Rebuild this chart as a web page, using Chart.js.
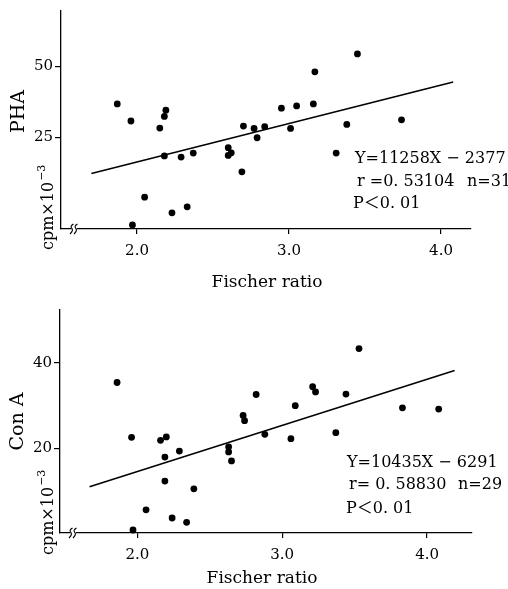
<!DOCTYPE html>
<html>
<head>
<meta charset="utf-8">
<script src="https://cdn.jsdelivr.net/npm/chart.js@4"></script>
<style>
  html, body { margin: 0; padding: 0; background: #fff; }
  body { width: 508px; height: 589px; position: relative; overflow: hidden; }
  canvas { position: absolute; left: 0; }
  #phaChart  { top: 0; }
  #conaChart { top: 295px; }
</style>
</head>
<body>
<canvas id="phaChart" width="508" height="295"></canvas>
<canvas id="conaChart" width="508" height="294"></canvas>
<script>
"use strict";

// ── Data (cpm × 10^-3 vs Fischer ratio) ──────────────────────────────────
const phaX = [1.87, 1.96, 2.19, 2.18, 2.15, 2.18, 2.29, 2.37, 2.60, 2.60, 2.62,
              2.70, 2.69, 2.05, 2.23, 2.33, 1.97, 2.77, 2.79, 2.84, 2.95, 3.05,
              3.01, 3.16, 3.17, 3.45, 3.38, 3.31, 3.74];
const phaY = [36.7, 30.7, 34.5, 32.3, 28.2, 18.4, 18.0, 19.4, 21.3, 18.6, 19.5,
              28.9, 12.8, 3.9, -1.6, 0.5, -5.9, 28.1, 24.8, 28.7, 35.2, 36.0,
              28.1, 36.7, 48.0, 54.3, 29.5, 19.4, 31.1];
const phaFitX = [1.70, 4.08];
const phaFitY = [12.2, 44.4];

const conaX = [1.86, 1.96, 2.16, 2.20, 2.19, 2.29, 2.19, 2.39, 2.06, 2.24, 2.34,
               1.97, 2.63, 2.63, 2.65, 2.73, 2.74, 2.82, 2.88, 3.09, 3.06, 3.21,
               3.23, 3.44, 3.53, 3.37, 3.83, 4.08];
const conaY = [35.4, 22.6, 21.9, 22.7, 18.0, 19.4, 12.4, 10.6, 5.7, 3.8, 2.8,
               1.0, 20.4, 19.2, 17.1, 27.7, 26.5, 32.6, 23.3, 30.0, 22.3, 34.4,
               33.2, 32.7, 43.3, 23.7, 29.5, 29.2];
const conaFitX = [1.67, 4.19];
const conaFitY = [11.1, 38.2];

const xTicks    = [2, 3, 4];
const phaTicks  = [25, 50];
const conaTicks = [20, 40];

const SERIF = '"DejaVu Serif", "Noto Sans CJK JP", serif';

// ── Helpers ───────────────────────────────────────────────────────────────
function toPoints(xs, ys) {
  return xs.map((x, i) => ({ x: x, y: ys[i] }));
}

// titles, stats text and the axis-break mark
const figureText = {
  id: "figureText",
  afterDraw(chart, args, o) {
    const ctx = chart.ctx;
    const area = chart.chartArea;
    ctx.save();
    ctx.fillStyle = "#000";
    ctx.strokeStyle = "#000";

    // axis break on the x axis
    const bx = area.left + 13, by = area.bottom;
    ctx.fillStyle = "#fff";
    ctx.fillRect(bx - 3, by - 2, 6, 4);
    ctx.fillStyle = "#000";
    ctx.lineWidth = 1.1;
    [-2, 2].forEach(d => {
      ctx.beginPath();
      ctx.moveTo(bx + d - 2, by + 5);
      ctx.quadraticCurveTo(bx + d + 2, by + 1, bx + d - 0.5, by - 1);
      ctx.quadraticCurveTo(bx + d - 2, by - 3, bx + d + 1.5, by - 5);
      ctx.stroke();
    });

    // x title
    ctx.font = "17px " + SERIF;
    ctx.textAlign = "center";
    ctx.textBaseline = "alphabetic";
    ctx.fillText("Fischer ratio", o.xTitle[0], o.xTitle[1]);

    // y name
    ctx.save();
    ctx.translate(o.name[1], o.name[2]);
    ctx.rotate(-Math.PI / 2);
    ctx.font = "19px " + SERIF;
    ctx.fillText(o.name[0], 0, 0);
    ctx.restore();

    // y unit  cpm×10^-3
    ctx.save();
    ctx.translate(o.unit[0], o.unit[1]);
    ctx.rotate(-Math.PI / 2);
    ctx.textAlign = "left";
    ctx.font = "16px " + SERIF;
    ctx.fillText("cpm×10", 0, 0);
    const w = ctx.measureText("cpm×10").width;
    ctx.font = "11px " + SERIF;
    ctx.fillText("−3", w + 1, -8);
    ctx.restore();

    // regression stats
    ctx.textAlign = "left";
    ctx.font = "16px " + SERIF;
    o.stats.forEach(s => ctx.fillText(s[0], s[1], s[2]));

    ctx.restore();
  }
};

function makeChart(id, cfg) {
  return new Chart(document.getElementById(id), {
    type: "scatter",
    data: {
      datasets: [
        {
          data: toPoints(cfg.x, cfg.y),
          backgroundColor: "#000",
          borderWidth: 0,
          pointRadius: 3.4,
          clip: false,
        },
        {
          data: toPoints(cfg.fitX, cfg.fitY),
          showLine: true,
          borderColor: "#000",
          borderWidth: 1.5,
          pointRadius: 0,
          clip: false,
        },
      ],
    },
    options: {
      responsive: false,
      animation: false,
      devicePixelRatio: 1,
      layout: { padding: cfg.padding },
      plugins: {
        legend: { display: false },
        tooltip: { enabled: false },
        figureText: cfg.text,
      },
      scales: {
        x: {
          type: "linear",
          min: cfg.xMin,
          max: cfg.xMax,
          afterBuildTicks: s => { s.ticks = xTicks.map(v => ({ value: v })); },
          afterFit: s => { s.height = cfg.xHeight; },
          border: { display: true, color: "#000", width: 1.3 },
          grid: { drawOnChartArea: false, drawTicks: true, tickLength: 5, color: "#000", lineWidth: 1.2 },
          ticks: {
            padding: 8,
            color: "#000",
            font: { family: SERIF, size: 15 },
            callback: v => v.toFixed(1),
          },
        },
        y: {
          type: "linear",
          min: cfg.yMin,
          max: cfg.yMax,
          afterBuildTicks: s => { s.ticks = cfg.yTicks.map(v => ({ value: v })); },
          afterFit: s => { s.width = cfg.yWidth; },
          border: { display: true, color: "#000", width: 1.3 },
          grid: { drawOnChartArea: false, drawTicks: true, tickLength: 6, color: "#000", lineWidth: 1.2 },
          ticks: {
            padding: 2,
            color: "#000",
            font: { family: SERIF, size: 15 },
          },
        },
      },
    },
    plugins: [figureText],
  });
}

// ── Upper panel: PHA ─────────────────────────────────────────────────────
makeChart("phaChart", {
  x: phaX, y: phaY, fitX: phaFitX, fitY: phaFitY,
  xMin: 1.5, xMax: 4.197, yMin: -7.3, yMax: 69.4, yTicks: phaTicks,
  padding: { left: 0, top: 8, right: 37, bottom: 0 },
  yWidth: 61, xHeight: 66,
  text: {
    xTitle: [267, 287],
    name: ["PHA", 24, 111.5],
    unit: [53, 250],
    stats: [
      ["Y=11258X − 2377", 355, 163],
      ["r =0. 53104", 357, 186],
      ["n=31", 467, 186],
      ["P＜0. 01", 353, 208],
    ],
  },
});

// ── Lower panel: Con A ───────────────────────────────────────────────────
makeChart("conaChart", {
  x: conaX, y: conaY, fitX: conaFitX, fitY: conaFitY,
  xMin: 1.466, xMax: 4.31, yMin: 0.3, yMax: 52.3, yTicks: conaTicks,
  padding: { left: 0, top: 15, right: 36, bottom: 0 },
  yWidth: 60, xHeight: 56,
  text: {
    xTitle: [262, 288],
    name: ["Con A", 23, 126.5],
    unit: [53, 260],
    stats: [
      ["Y=10435X − 6291", 347, 172],
      ["r= 0. 58830", 349, 194],
      ["n=29", 458, 194],
      ["P＜0. 01", 346, 218],
    ],
  },
});
</script>
</body>
</html>
